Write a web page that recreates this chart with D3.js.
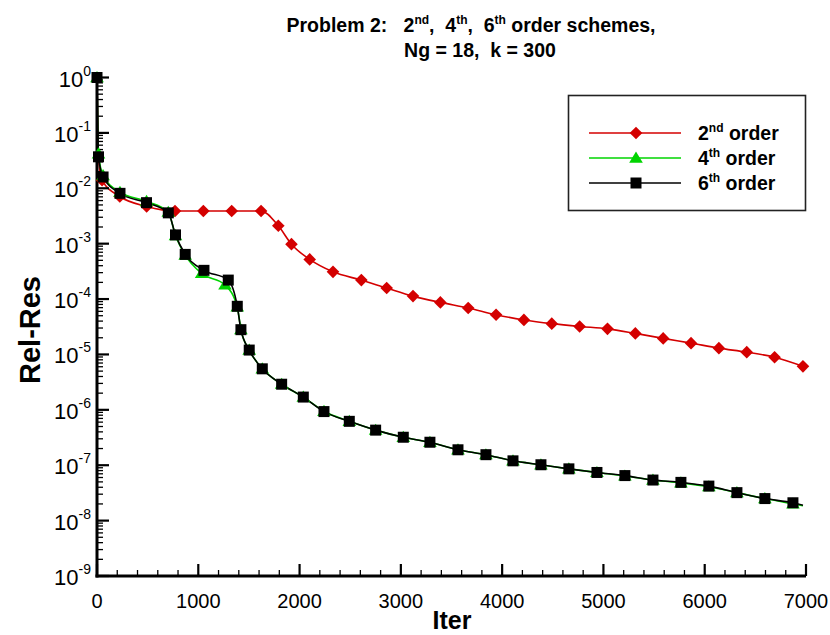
<!DOCTYPE html>
<html>
<head>
<meta charset="utf-8">
<script src="https://cdn.jsdelivr.net/npm/d3@7"></script>
<style>
  body { margin: 0; background: #fff; }
  text { font-family: "Liberation Sans", Arial, sans-serif; white-space: pre; }
</style>
</head>
<body>
<div id="chart"></div>
<script>
// data
var iter2 = [0, 15, 50, 225, 490, 770, 1050, 1330, 1620, 1790, 1920, 2100, 2330, 2610, 2860, 3120, 3390,
  3665, 3940, 4215, 4490, 4765, 5040, 5315, 5590, 5865, 6140, 6415, 6690, 6970];
var res2 = [1, 0.035, 0.014, 0.0071, 0.0047, 0.0039, 0.0039, 0.0039, 0.0039, 0.0021, 0.00098, 0.00052, 0.00031,
  0.00022, 0.000158, 0.000113, 0.000087, 6.9e-5, 5.2e-5, 4.2e-5, 3.6e-5, 3.2e-5, 2.9e-5, 2.4e-5, 1.95e-5,
  1.6e-5, 1.3e-5, 1.1e-5, 8.9e-6, 6.1e-6];

var iter4 = [0, 15, 60, 227, 489, 704, 775, 871, 1033, 1264, 1385, 1421, 1503, 1632, 1823, 2037, 2241, 2491,
  2751, 3024, 3287, 3564, 3840, 4107, 4383, 4659, 4936, 5212, 5489, 5765, 6041, 6318, 6594, 6871, 6970];
var res4 = [1, 0.042, 0.017, 0.0085, 0.0058, 0.0037, 0.0014, 0.00062, 0.00029, 0.00018, 7.2e-5, 2.8e-5, 1.2e-5,
  5.5e-6, 2.9e-6, 1.7e-6, 9.4e-7, 6.2e-7, 4.3e-7, 3.2e-7, 2.6e-7, 1.9e-7, 1.55e-7, 1.2e-7, 1.02e-7, 8.6e-8,
  7.4e-8, 6.4e-8, 5.4e-8, 4.8e-8, 4.1e-8, 3.2e-8, 2.5e-8, 2.0e-8, 1.85e-8];

var iter6 = [0, 15, 60, 227, 489, 704, 775, 871, 1056, 1296, 1385, 1421, 1503, 1632, 1823, 2037, 2241, 2491,
  2751, 3024, 3287, 3564, 3840, 4107, 4383, 4659, 4936, 5212, 5489, 5765, 6041, 6318, 6594, 6871, 6970];
var res6 = [1, 0.037, 0.016, 0.0081, 0.0055, 0.0036, 0.00144, 0.00064, 0.00033, 0.00022, 7.4e-5, 2.8e-5, 1.2e-5,
  5.5e-6, 2.9e-6, 1.7e-6, 9.3e-7, 6.2e-7, 4.3e-7, 3.2e-7, 2.6e-7, 1.9e-7, 1.55e-7, 1.2e-7, 1.02e-7, 8.6e-8,
  7.4e-8, 6.5e-8, 5.4e-8, 4.9e-8, 4.2e-8, 3.2e-8, 2.5e-8, 2.1e-8, 1.9e-8];

var xTicks = [0, 1000, 2000, 3000, 4000, 5000, 6000, 7000];
var yExps = [0, -1, -2, -3, -4, -5, -6, -7, -8, -9];
var legendNames = [["2", "nd", " order"], ["4", "th", " order"], ["6", "th", " order"]];

var width = 830, height = 635;
var svg = d3.select('#chart').append('svg')
  .attr('width', width).attr('height', height);

var x = d3.scaleLinear().domain([0, 7000]).range([97, 806]);
var y = d3.scaleLog().domain([1e-9, 1]).range([576, 77.5]);

// title
var title = svg.append('text')
  .attr('x', 471).attr('y', 32)
  .attr('text-anchor', 'middle')
  .style('font-size', '19.5px').style('font-weight', 'bold');
title.append('tspan').text('Problem 2:   2');
title.append('tspan').attr('dy', -8).style('font-size', '12px').text('nd');
title.append('tspan').attr('dy', 8).text(',  4');
title.append('tspan').attr('dy', -8).style('font-size', '12px').text('th');
title.append('tspan').attr('dy', 8).text(',  6');
title.append('tspan').attr('dy', -8).style('font-size', '12px').text('th');
title.append('tspan').attr('dy', 8).text(' order schemes,');
svg.append('text')
  .attr('x', 480).attr('y', 57)
  .attr('text-anchor', 'middle')
  .style('font-size', '19.5px').style('font-weight', 'bold')
  .text('Ng = 18,  k = 300');

var plot = svg.append('g');
var axes = svg.append('g');
var marks = svg.append('g');

// axes
axes.append('line').attr('x1', x(0)).attr('x2', x(0)).attr('y1', y(1) - 2).attr('y2', y(1e-9) + 1.5)
  .attr('stroke', '#000').attr('stroke-width', 3);
axes.append('line').attr('x1', x(0) - 1.5).attr('x2', x(7000)).attr('y1', y(1e-9)).attr('y2', y(1e-9))
  .attr('stroke', '#000').attr('stroke-width', 3);

// x ticks
var xMinor = d3.range(0, 7001, 200);
axes.selectAll('line.xt').data(xMinor).enter().append('line')
  .attr('class', 'xt')
  .attr('x1', function (d) { return x(d); }).attr('x2', function (d) { return x(d); })
  .attr('y1', y(1e-9))
  .attr('y2', function (d) { return y(1e-9) - (d % 1000 === 0 ? 12 : 6); })
  .attr('stroke', '#000').attr('stroke-width', function (d) { return d % 1000 === 0 ? 2.2 : 1.3; });
axes.selectAll('text.xl').data(xTicks).enter().append('text')
  .attr('class', 'xl')
  .attr('x', function (d) { return x(d); }).attr('y', 608)
  .attr('text-anchor', 'middle')
  .style('font-size', '20px')
  .text(function (d) { return d; });

// y ticks
var yMinor = [];
yExps.forEach(function (e) {
  if (e === 0) return;
  for (var m = 1; m <= 9; m++) yMinor.push({ v: m * Math.pow(10, e), major: m === 1 });
});
yMinor.push({ v: 1, major: true });
axes.selectAll('line.yt').data(yMinor).enter().append('line')
  .attr('class', 'yt')
  .attr('x1', x(0))
  .attr('x2', function (d) { return x(0) + (d.major ? 12 : 6); })
  .attr('y1', function (d) { return y(d.v); }).attr('y2', function (d) { return y(d.v); })
  .attr('stroke', '#000').attr('stroke-width', function (d) { return d.major ? 2.2 : 1.3; });
var yl = axes.selectAll('text.yl').data(yExps).enter().append('text')
  .attr('class', 'yl')
  .attr('x', 91).attr('y', function (d) { return y(Math.pow(10, d)) + 9; })
  .attr('text-anchor', 'end')
  .style('font-size', '22px');
yl.append('tspan').text('10');
yl.append('tspan').attr('dy', -11).style('font-size', '14px')
  .text(function (d) { return d === 0 ? '0' : '-' + (-d); });

// axis titles
svg.append('text').attr('x', 452).attr('y', 629)
  .attr('text-anchor', 'middle')
  .style('font-size', '25px').style('font-weight', 'bold')
  .text('Iter');
svg.append('text')
  .attr('transform', 'translate(40,330) rotate(-90)')
  .attr('text-anchor', 'middle')
  .style('font-size', '29px').style('font-weight', 'bold')
  .text('Rel-Res');

// markers
function diamond(s) { return 'M0,' + (-s) + 'L' + s + ',0L0,' + s + 'L' + (-s) + ',0Z'; }
function triangle(s) { return 'M0,' + (-s * 1.05) + 'L' + (s * 1.1) + ',' + (s * 0.75) + 'L' + (-s * 1.1) + ',' + (s * 0.75) + 'Z'; }
function square(s) { return 'M' + (-s) + ',' + (-s) + 'h' + (2 * s) + 'v' + (2 * s) + 'h' + (-2 * s) + 'Z'; }

var series = [
  { xs: iter2, ys: res2, color: '#d40000', fill: '#d40000', marker: diamond(6.3), skipLast: false, skip: [0, 1] },
  { xs: iter4, ys: res4, color: '#00d400', fill: '#00d400', marker: triangle(6.2), skipLast: true, skip: [] },
  { xs: iter6, ys: res6, color: '#000', fill: '#000', marker: square(5.5), skipLast: true, skip: [] }
];

var line = d3.line()
  .x(function (d) { return x(d[0]); })
  .y(function (d) { return y(d[1]); })
  .curve(d3.curveMonotoneX);

series.forEach(function (s) {
  var pts = s.xs.map(function (v, i) { return [v, s.ys[i]]; });
  plot.append('path').datum(pts)
    .attr('d', line)
    .attr('fill', 'none')
    .attr('stroke', s.color)
    .attr('stroke-width', 1.6);
  var mk = pts.filter(function (d, i) {
    if (s.skipLast && i === pts.length - 1) return false;
    return s.skip.indexOf(i) < 0;
  });
  marks.selectAll(null).data(mk).enter().append('path')
    .attr('d', s.marker)
    .attr('transform', function (d) { return 'translate(' + x(d[0]) + ',' + y(d[1]) + ')'; })
    .attr('fill', s.fill);
});

// legend
var lg = svg.append('g');
lg.append('rect').attr('x', 568.5).attr('y', 95.5).attr('width', 237).attr('height', 115)
  .attr('fill', '#fff').attr('stroke', '#222').attr('stroke-width', 1.6);
var legendY = [133, 158, 183];
series.forEach(function (s, i) {
  lg.append('line').attr('x1', 589).attr('x2', 681)
    .attr('y1', legendY[i]).attr('y2', legendY[i])
    .attr('stroke', s.color).attr('stroke-width', 1.6);
  lg.append('path').attr('d', s.marker)
    .attr('transform', 'translate(636,' + legendY[i] + ')')
    .attr('fill', s.fill);
  var t = lg.append('text').attr('x', 698).attr('y', legendY[i] + 7)
    .style('font-size', '19.5px').style('font-weight', 'bold');
  t.append('tspan').text(legendNames[i][0]);
  t.append('tspan').attr('dy', -8).style('font-size', '12px').text(legendNames[i][1]);
  t.append('tspan').attr('dy', 8).text(legendNames[i][2]);
});
</script>
</body>
</html>
